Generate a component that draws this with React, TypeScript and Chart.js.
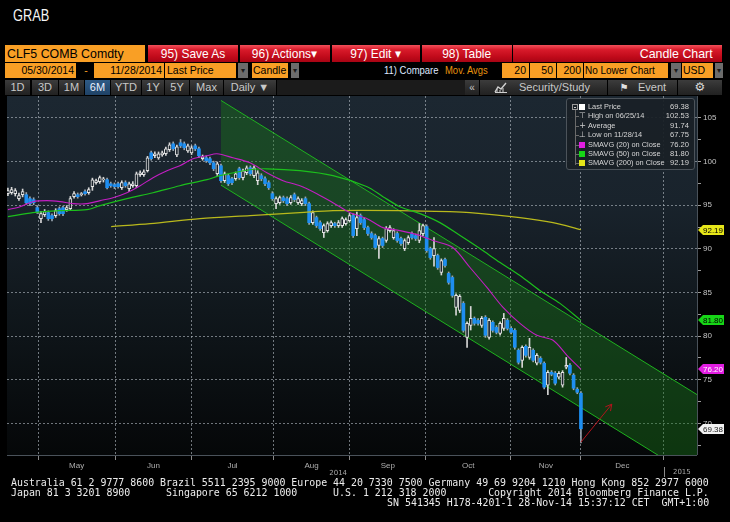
import React, { useEffect, useRef } from "react";
import { Chart, registerables } from "chart.js";

Chart.register(...registerables);

// ---------- DATA (daily candles, index 0 = first visible trading day) ----------
const openPrices = [
  96.32, 96.43, 96.32, 95.75, 96.2, 96.2, 95.75, 95.63, 94.72, 93.46,
  93.92, 94.15, 93.81, 93.81, 94.6, 94.72, 94.49, 94.6, 95.98, 96.2,
  96.2, 96.55, 96.43, 97.12, 97.58, 97.69, 97.9, 97.92, 97.46, 97.35,
  97.46, 97.0, 97.58, 96.89, 97.23, 97.23, 98.49, 98.49, 98.95, 101.0,
  100.66, 100.43, 100.77, 100.89, 101.35, 102.03, 100.77, 102.15, 102.03, 101.23,
  101.0, 101.8, 101.46, 100.32, 100.43, 100.32, 99.86, 98.6, 99.52, 97.81,
  98.38, 98.03, 98.03, 99.17, 98.15, 98.72, 99.29, 98.38, 97.81, 98.38,
  98.03, 97.58, 96.32, 95.18, 95.29, 95.86, 95.75, 95.29, 96.2, 95.29,
  95.18, 95.75, 95.18, 93.0, 93.58, 93.0, 91.86, 92.09, 92.66, 92.89,
  92.66, 92.66, 92.89, 93.23, 93.81, 92.32, 93.81, 93.35, 92.43, 91.75,
  91.52, 90.38, 91.18, 90.95, 92.09, 91.29, 91.75, 91.18, 90.03, 90.72,
  91.75, 91.52, 90.95, 91.75, 92.55, 90.03, 89.23, 89.23, 87.29, 88.77,
  87.18, 86.72, 83.29, 82.95, 83.75, 79.86, 81.23, 82.03, 81.8, 81.23,
  82.15, 79.86, 81.58, 81.0, 80.32, 80.89, 81.8, 80.89, 80.66, 78.38,
  77.23, 78.83, 77.57, 78.38, 76.89, 77.46, 76.89, 74.37, 75.86, 75.75,
  75.29, 74.37, 76.43, 76.66, 75.52, 73.92, 73.46,
];
const highPrices = [
  96.95, 97.05, 96.9, 96.4, 96.85, 96.45, 95.95, 95.85, 94.95, 94.3,
  94.5, 94.35, 94.0, 94.6, 94.8, 94.9, 94.95, 96.0, 96.55, 96.4,
  96.45, 96.75, 97.0, 98.1, 98.0, 98.35, 98.2, 98.1, 97.65, 97.55,
  97.65, 97.8, 97.8, 97.65, 97.7, 98.8, 98.95, 99.05, 100.6, 101.2,
  101.1, 101.1, 101.2, 101.65, 102.15, 102.25, 101.9, 102.53, 102.25, 102.0,
  101.8, 102.0, 101.65, 100.75, 100.65, 100.5, 100.05, 99.95, 99.7, 98.8,
  98.55, 98.2, 98.8, 99.35, 99.15, 99.5, 99.5, 99.5, 98.95, 98.6,
  98.25, 97.8, 96.55, 95.95, 96.05, 96.05, 95.95, 96.1, 96.4, 95.95,
  95.75, 95.95, 95.35, 94.35, 93.75, 93.2, 92.85, 93.1, 93.2, 93.05,
  93.25, 93.65, 93.55, 94.05, 94.0, 94.2, 94.0, 93.55, 92.6, 91.95,
  91.7, 91.4, 91.35, 92.55, 92.65, 92.3, 91.95, 91.35, 91.15, 91.5,
  91.95, 91.7, 92.9, 92.85, 92.75, 90.2, 91.3, 89.4, 88.85, 88.95,
  87.35, 86.9, 84.85, 84.75, 83.95, 81.65, 83.4, 82.2, 82.0, 82.25,
  82.35, 82.0, 81.75, 81.2, 81.65, 82.6, 82.0, 81.1, 80.85, 78.55,
  78.9, 79.0, 79.75, 78.55, 78.0, 77.65, 77.05, 76.05, 76.05, 75.95,
  75.95, 76.05, 77.55, 76.85, 75.7, 74.1, 73.65,
];
const lowPrices = [
  96.1, 96.25, 96.05, 95.55, 95.95, 95.1, 94.95, 95.05, 94.05, 93.0,
  93.7, 93.25, 93.2, 93.6, 93.85, 93.8, 94.3, 94.4, 95.8, 95.8,
  96.05, 96.15, 96.25, 96.7, 97.4, 97.5, 97.65, 96.85, 97.05, 96.9,
  96.95, 96.8, 97.05, 96.55, 97.05, 97.0, 98.3, 98.3, 98.8, 100.15,
  100.45, 100.25, 100.6, 100.7, 101.15, 101.25, 100.55, 101.6, 101.35, 101.05,
  100.8, 101.25, 100.45, 100.15, 99.9, 99.65, 98.95, 98.4, 97.6, 97.6,
  97.25, 97.35, 97.85, 97.95, 97.9, 98.5, 98.4, 98.15, 97.35, 97.8,
  97.25, 96.8, 95.55, 94.6, 95.1, 95.3, 94.95, 95.1, 95.4, 95.1,
  94.95, 94.95, 92.8, 92.8, 92.45, 92.1, 91.3, 91.9, 92.45, 92.45,
  92.45, 92.45, 92.7, 93.05, 91.3, 91.5, 92.8, 92.2, 91.55, 91.1,
  89.95, 88.9, 90.15, 90.75, 91.9, 91.1, 90.75, 90.4, 89.8, 90.5,
  91.1, 90.95, 90.7, 91.5, 89.6, 88.8, 88.0, 87.65, 87.0, 87.9,
  85.95, 84.45, 82.4, 82.7, 80.45, 78.7, 80.7, 81.25, 81.25, 81.0,
  79.85, 79.65, 80.45, 80.25, 80.1, 80.65, 80.7, 80.25, 78.5, 76.8,
  76.4, 77.6, 77.35, 77.05, 76.7, 76.8, 73.95, 73.3, 75.45, 74.4,
  75.1, 74.15, 76.25, 75.55, 73.85, 73.4, 67.75,
];
const closePrices = [
  96.66, 96.78, 96.66, 96.09, 96.55, 95.29, 95.18, 95.29, 94.26, 94.03,
  94.26, 93.46, 93.46, 94.38, 94.03, 94.03, 94.72, 95.75, 96.32, 95.98,
  96.32, 96.32, 96.78, 97.92, 97.81, 98.15, 97.95, 97.0, 97.23, 97.12,
  97.12, 97.58, 97.23, 97.46, 97.46, 98.6, 98.72, 98.83, 100.43, 100.32,
  100.89, 100.89, 101.0, 101.46, 101.92, 101.46, 101.69, 101.8, 101.58, 101.8,
  101.58, 101.46, 100.66, 100.55, 100.09, 99.86, 99.17, 99.75, 97.81, 98.6,
  97.46, 97.58, 98.6, 98.15, 98.95, 99.29, 98.6, 99.29, 98.72, 98.03,
  97.46, 97.0, 95.75, 95.75, 95.86, 95.52, 95.18, 95.86, 95.63, 95.75,
  95.52, 95.18, 93.0, 94.15, 92.66, 92.32, 92.66, 92.89, 93.0, 92.66,
  93.0, 93.46, 93.35, 93.81, 91.52, 93.58, 93.0, 92.43, 91.75, 91.29,
  90.15, 91.18, 90.38, 92.32, 92.43, 92.09, 90.95, 90.6, 90.95, 91.29,
  91.29, 91.18, 92.09, 92.66, 89.8, 89.0, 90.03, 87.86, 88.66, 88.09,
  86.15, 84.66, 84.66, 84.55, 80.66, 81.46, 82.03, 81.46, 81.46, 82.03,
  80.09, 81.8, 80.66, 80.43, 81.46, 82.03, 80.89, 80.43, 78.72, 77.0,
  78.72, 77.8, 78.72, 77.23, 77.8, 77.0, 74.15, 75.86, 75.63, 74.6,
  75.75, 75.86, 76.66, 75.75, 74.03, 73.57, 69.38,
];

const sma20X = [0, 3.3, 6.8, 10.6, 14.2, 17.7, 21.5, 25.1, 28.6, 32.4, 36, 39.5, 43.3, 46.8, 50.4, 54.2, 56.9, 61.3, 65.9, 70.5, 74.9, 79.5, 84.1, 88.5, 93.1, 97.8, 102.1, 106.7, 111.4, 115.7, 121.1, 125.8, 130.4, 134.8, 139.4, 144, 148.4, 152.2, 156];
const sma20Y = [94.49, 94.83, 95.4, 95.52, 95.41, 95.18, 95.18, 95.52, 95.86, 96.43, 97.23, 98.15, 98.95, 99.52, 100.32, 100.66, 100.89, 100.43, 99.86, 98.72, 97.81, 97.23, 96.32, 95.29, 94.15, 93.46, 92.43, 92.09, 91.63, 90.95, 90.15, 87.86, 85.58, 83.29, 81.46, 80.09, 79.52, 77.8, 76.2];
const sma50X = [0, 6.8, 14.2, 21.5, 25.1, 32.4, 39.5, 46.8, 54.2, 57.7, 65.9, 70.5, 79.5, 88.5, 97.8, 102.1, 106.7, 112.2, 117.6, 123.1, 128.5, 134, 139.4, 144.8, 150.3, 156];
const sma50Y = [93.69, 94.15, 94.38, 94.49, 94.95, 95.75, 96.43, 97.23, 97.92, 98.38, 99.06, 99.17, 98.95, 98.38, 97.12, 95.98, 94.83, 94.03, 93.0, 91.52, 90.03, 88.43, 86.95, 85.23, 83.75, 81.8];
const sma200X = [28.1, 38.7, 52.3, 65.9, 79.5, 88.5, 106.7, 120.3, 125.8, 139.4, 148.4, 156];
const sma200Y = [92.55, 92.89, 93.46, 93.81, 94.15, 94.38, 94.38, 94.26, 94.15, 93.58, 93.0, 92.19];

const channelX = [58, 187.6];
const channelTop = [107.0, 73.3];
const channelBottom = [97.3, 63.6];
const arrowX = [156, 164.4];
const arrowY = [67.85, 72.2];

const monthBounds = [8.2, 29.2, 50.1, 72.2, 93.1, 113.8, 136.9, 156.0, 178.6];
const monthLabels = ["May", "Jun", "Jul", "Aug", "Sep", "Oct", "Nov", "Dec"];
const yearLabels = ["2014", "2015"];
const yearPos = [89.9, 178.6];
const yTicks = [67.5, 70, 72.5, 75, 77.5, 80, 82.5, 85, 87.5, 90, 92.5, 95, 97.5, 100, 102.5, 105];

const tagValues = [92.19, 81.8, 76.2, 69.38];
const tagColors = ["#e6e619", "#17d617", "#e21ee2", "#f2f2f2"];
const tagText = ["#000", "#000", "#fff", "#222"];

const legendNames = ["Last Price", "High on 06/25/14", "Average", "Low on 11/28/14", "SMAVG (20) on Close", "SMAVG (50) on Close", "SMAVG (200) on Close"];
const legendValues = ["69.38", "102.53", "91.74", "67.75", "76.20", "81.80", "92.19"];
const legendSwatch = ["#ffffff", "", "", "", "#e21ee2", "#17d617", "#e6e619"];

const footer1 = "Australia 61 2 9777 8600 Brazil 5511 2395 9000 Europe 44 20 7330 7500 Germany 49 69 9204 1210 Hong Kong 852 2977 6000";
const footer2 = "Japan 81 3 3201 8900      Singapore 65 6212 1000      U.S. 1 212 318 2000       Copyright 2014 Bloomberg Finance L.P.";
const footer3 = "SN 541345 H178-4201-1 28-Nov-14 15:37:12 CET  GMT+1:00";

// ---------- HELPERS ----------
const ORANGE = "#f99f25";
const RED = "linear-gradient(to bottom, #f2505a 0%, #d81a2a 28%, #c00a1a 70%, #a80414 100%)";
const BTN = "linear-gradient(to bottom, #3c3c3c 0%, #2c2c2c 55%, #222 100%)";

type BP = {
  l: number; t: number; w: number; h: number; bg?: string; c?: string; fs?: number;
  a?: "left" | "center" | "right"; p?: number; sx?: number; ff?: string; children?: React.ReactNode; st?: React.CSSProperties;
};
function B({ l, t, w, h, bg, c = "#000", fs = 11, a = "left", p = 2, sx = 1, ff = "Liberation Sans", children, st }: BP) {
  return (
    <div
      style={{
        position: "absolute", left: l, top: t, width: w, height: h, background: bg, color: c, fontSize: fs,
        fontFamily: ff, lineHeight: h + "px", textAlign: a, padding: `0 ${p}px`, boxSizing: "border-box",
        whiteSpace: "pre", overflow: "hidden", ...st,
      }}
    >
      <span style={{ display: "inline-block", transform: `scaleX(${sx})`, transformOrigin: a === "left" ? "left center" : a === "right" ? "right center" : "center center" }}>
        {children}
      </span>
    </div>
  );
}

function Candles() {
  const ref = useRef<HTMLCanvasElement | null>(null);
  useEffect(() => {
    const canvas = ref.current;
    if (!canvas) return;
    const up = closePrices.map((c, i) => c >= openPrices[i]);
    const monthMids = monthBounds.slice(0, -1).map((b, i) => (b + monthBounds[i + 1]) / 2);
    const isBound = (v: number) => monthBounds.some((b) => Math.abs(b - v) < 1e-6);
    const gridCol = "rgba(178,186,194,0.62)";

    const bgPlugin = {
      id: "bgfill",
      beforeDraw(chart: any) {
        const { ctx, chartArea: a } = chart;
        const g = ctx.createLinearGradient(0, a.top, 0, a.bottom);
        g.addColorStop(0, "#1c2731");
        g.addColorStop(0.3, "#19232c");
        g.addColorStop(0.6, "#10171c");
        g.addColorStop(1, "#050708");
        ctx.save();
        ctx.fillStyle = g;
        ctx.fillRect(a.left, a.top, a.right - a.left, a.bottom - a.top);
        ctx.restore();
      },
    };

    const overlay = {
      id: "overlay",
      afterDatasetsDraw(chart: any) {
        const { ctx, scales, chartArea: a } = chart;
        const x = scales.x, y = scales.y;
        // arrow
        const x0 = x.getPixelForValue(arrowX[0]), y0 = y.getPixelForValue(arrowY[0]);
        const x1 = x.getPixelForValue(arrowX[1]), y1 = y.getPixelForValue(arrowY[1]);
        ctx.save();
        ctx.strokeStyle = "#b3141c";
        ctx.lineWidth = 1;
        ctx.beginPath();
        ctx.moveTo(x0, y0);
        ctx.lineTo(x1, y1);
        const ang = Math.atan2(y1 - y0, x1 - x0);
        for (const s of [-1, 1]) {
          ctx.moveTo(x1, y1);
          ctx.lineTo(x1 - 7 * Math.cos(ang + s * 0.5), y1 - 7 * Math.sin(ang + s * 0.5));
        }
        ctx.stroke();
        // axis lines
        ctx.strokeStyle = "#4a525a";
        ctx.beginPath();
        ctx.moveTo(a.left, Math.round(a.bottom) + 0.5);
        ctx.lineTo(a.right, Math.round(a.bottom) + 0.5);
        ctx.moveTo(Math.round(a.right) + 0.5, a.top);
        ctx.lineTo(Math.round(a.right) + 0.5, a.bottom);
        ctx.stroke();
        ctx.restore();
      },
      afterDraw(chart: any) {
        const { ctx, scales, chartArea: a } = chart;
        const x = scales.x, y = scales.y;
        ctx.save();
        // value tags on right axis
        tagValues.forEach((v, i) => {
          const py = Math.round(y.getPixelForValue(v));
          const r = a.right + 1;
          ctx.fillStyle = tagColors[i];
          ctx.beginPath();
          ctx.moveTo(r, py);
          ctx.lineTo(r + 5, py - 5);
          ctx.lineTo(r + 26, py - 5);
          ctx.lineTo(r + 26, py + 5);
          ctx.lineTo(r + 5, py + 5);
          ctx.closePath();
          ctx.fill();
          ctx.fillStyle = tagText[i];
          ctx.font = "8px 'Liberation Sans'";
          ctx.textBaseline = "middle";
          ctx.textAlign = "left";
          ctx.fillText(v.toFixed(2), r + 5, py + 0.5);
        });
        // year labels
        ctx.fillStyle = "#a8a8a8";
        ctx.font = "7px 'DejaVu Sans'";
        ctx.textBaseline = "middle";
        yearLabels.forEach((lab, i) => {
          const px = x.getPixelForValue(yearPos[i]);
          if (i === 0) {
            ctx.textAlign = "center";
            ctx.fillText(lab, px, a.bottom + 18);
          } else {
            ctx.strokeStyle = "#8a8a8a";
            ctx.beginPath();
            ctx.moveTo(Math.round(px) + 0.5, a.bottom + 12);
            ctx.lineTo(Math.round(px) + 0.5, a.bottom + 22);
            ctx.stroke();
            ctx.textAlign = "left";
            ctx.fillText(lab, px + 9, a.bottom + 17);
          }
        });
        ctx.restore();
      },
    };

    const chart = new Chart(canvas, {
      type: "bar",
      data: {
        datasets: [
          {
            type: "line",
            data: channelX.map((v, i) => ({ x: v, y: channelTop[i] })),
            borderColor: "#1fb21f",
            borderWidth: 1,
            pointRadius: 0,
            fill: "+1",
            backgroundColor: "rgba(26,118,26,0.42)",
            order: 30,
          } as any,
          {
            type: "line",
            data: channelX.map((v, i) => ({ x: v, y: channelBottom[i] })),
            borderColor: "#1fb21f",
            borderWidth: 1,
            pointRadius: 0,
            fill: false,
            order: 29,
          } as any,
          {
            type: "bar",
            data: lowPrices.map((l, i) => ({ x: i, y: [l, highPrices[i]] })),
            backgroundColor: up.map((u) => (u ? "#d6d6d6" : "#9aa6b0")),
            barThickness: 1,
            grouped: false,
            order: 20,
          } as any,
          {
            type: "bar",
            data: openPrices.map((o, i) => ({ x: i, y: [o, closePrices[i]] })),
            backgroundColor: up.map((u) => (u ? "#1a232b" : "#1e8ef0")),
            borderColor: up.map((u) => (u ? "#e4e4e4" : "#1e8ef0")),
            borderWidth: up.map((u) => (u ? 1 : 0)),
            borderSkipped: false,
            barThickness: 3,
            minBarLength: 1,
            grouped: false,
            order: 19,
          } as any,
          {
            type: "line",
            data: sma200X.map((v, i) => ({ x: v, y: sma200Y[i] })),
            borderColor: "#b9b91c",
            borderWidth: 1.3,
            pointRadius: 0,
            tension: 0.3,
            fill: false,
            order: 3,
          } as any,
          {
            type: "line",
            data: sma50X.map((v, i) => ({ x: v, y: sma50Y[i] })),
            borderColor: "#1cbf1c",
            borderWidth: 1.2,
            pointRadius: 0,
            tension: 0.3,
            fill: false,
            order: 2,
          } as any,
          {
            type: "line",
            data: sma20X.map((v, i) => ({ x: v, y: sma20Y[i] })),
            borderColor: "#c21ec2",
            borderWidth: 1.1,
            pointRadius: 0,
            tension: 0.3,
            fill: false,
            order: 1,
          } as any,
        ],
      },
      options: {
        animation: false,
        responsive: false,
        devicePixelRatio: 1,
        events: [],
        layout: { padding: { left: 7, top: 0, right: 0, bottom: 0 } },
        plugins: { legend: { display: false }, tooltip: { enabled: false }, title: { display: false } },
        scales: {
          x: {
            type: "linear",
            min: -0.25,
            max: 187.6,
            offset: false,
            afterBuildTicks: (s: any) => {
              s.ticks = [...monthBounds, ...monthMids].sort((p, q) => p - q).map((v) => ({ value: v }));
            },
            afterFit: (s: any) => {
              s.height = 25;
              s.paddingLeft = 0;
              s.paddingRight = 0;
            },
            ticks: {
              autoSkip: false,
              maxRotation: 0,
              minRotation: 0,
              padding: 1,
              color: "#aeaeae",
              font: { size: 8, family: "'Liberation Sans'" },
              callback: (v: any) => {
                const k = monthMids.findIndex((m) => Math.abs(m - Number(v)) < 1e-6);
                return k >= 0 ? monthLabels[k] : "";
              },
            },
            grid: {
              offset: false,
              color: (ctx: any) => (ctx.tick && isBound(ctx.tick.value) ? gridCol : "rgba(0,0,0,0)"),
              tickColor: (ctx: any) => (ctx.tick && isBound(ctx.tick.value) ? "#8a8a8a" : "rgba(0,0,0,0)"),
              tickLength: 5,
              lineWidth: 1,
            },
            border: { display: false, dash: [2, 2] },
          } as any,
          y: {
            type: "linear",
            position: "right",
            min: 66.38,
            max: 107.51,
            afterBuildTicks: (s: any) => {
              s.ticks = yTicks.map((v) => ({ value: v }));
            },
            afterFit: (s: any) => {
              s.width = 33;
              s.paddingTop = 0;
              s.paddingBottom = 0;
            },
            ticks: {
              padding: 2,
              color: "#c4c4c4",
              font: { size: 8, family: "'Liberation Sans'" },
              callback: (v: any) => (Number(v) % 5 === 0 ? String(v) : ""),
            },
            grid: {
              color: (ctx: any) => (ctx.tick && ctx.tick.value % 5 === 0 ? gridCol : "rgba(0,0,0,0)"),
              tickColor: "#9a9a9a",
              tickLength: 4,
              lineWidth: 1,
            },
            border: { display: false, dash: [2, 2] },
          } as any,
        },
      } as any,
      plugins: [bgPlugin, overlay],
    });
    return () => chart.destroy();
  }, []);
  return <canvas ref={ref} width={730} height={384} style={{ position: "absolute", left: 0, top: 96, display: "block" }} />;
}

function Legend() {
  return (
    <div
      style={{
        position: "absolute", left: 566, top: 98, width: 129, height: 72, background: "rgba(26,32,38,0.94)",
        border: "1px solid #4c535a", borderRadius: 3, boxSizing: "border-box", fontFamily: "'Liberation Sans'",
      }}
    >
      <div style={{ position: "absolute", left: 8, top: 10, width: 1, height: 56, background: "#6a6a6a" }} />
      <div style={{ position: "absolute", left: 5, top: 5, width: 6, height: 6, border: "1px solid #9a9a9a", boxSizing: "border-box", background: "#1a2026" }}>
        <div style={{ position: "absolute", left: 1, top: 2, width: 2, height: 1, background: "#ccc" }} />
      </div>
      {legendNames.map((n, i) => {
        const cy = 8 + i * 9.4;
        return (
          <React.Fragment key={n}>
            {i > 0 && <div style={{ position: "absolute", left: 8, top: cy, width: 4, height: 1, background: "#6a6a6a" }} />}
            {legendSwatch[i] ? (
              <div style={{ position: "absolute", left: 12, top: cy - 3, width: 6, height: 6, background: legendSwatch[i] }} />
            ) : (
              <div style={{ position: "absolute", left: 11, top: cy - 5, width: 9, height: 10, color: "#cfcfcf", fontSize: 8, lineHeight: "10px", textAlign: "center", fontFamily: "'DejaVu Sans'" }}>
                {i === 1 ? "\u22A4" : i === 2 ? "+" : "\u22A5"}
              </div>
            )}
            <div style={{ position: "absolute", left: 21, top: cy - 5, height: 10, lineHeight: "10px", fontSize: 7.4, color: "#d6d6d6", whiteSpace: "nowrap" }}>{n}</div>
            <div style={{ position: "absolute", right: 5, top: cy - 5, height: 10, lineHeight: "10px", fontSize: 7.6, color: "#d6d6d6", whiteSpace: "nowrap" }}>{legendValues[i]}</div>
          </React.Fragment>
        );
      })}
    </div>
  );
}

function ChartIcon() {
  return (
    <svg width="14" height="11" style={{ position: "absolute", left: 494, top: 82 }}>
      <polyline points="1,10 4,5 7,7 12,1" fill="none" stroke="#d0d0d0" strokeWidth="1.4" />
      <line x1="1" y1="10.5" x2="13" y2="10.5" stroke="#d0d0d0" strokeWidth="1" />
      <line x1="3" y1="10" x2="3" y2="7" stroke="#d0d0d0" />
      <line x1="6" y1="10" x2="6" y2="8" stroke="#d0d0d0" />
      <line x1="9" y1="10" x2="9" y2="6" stroke="#d0d0d0" />
    </svg>
  );
}

export default function App() {
  useEffect(() => {
    document.body.style.margin = "0";
    document.body.style.background = "#000";
  }, []);
  const txt = "#c8c8c8";
  return (
    <div style={{ position: "fixed", left: 0, top: 0, width: 730, height: 522, background: "#000", overflow: "hidden", fontFamily: "'Liberation Sans'" }}>
      <B l={13} t={6} w={60} h={20} c="#f4f4f4" fs={16} p={0} sx={0.8}>GRAB</B>

      {/* row 1 */}
      <B l={5} t={45} w={140} h={17} bg={ORANGE} fs={13} p={2} sx={0.95}>CLF5 COMB Comdty</B>
      <B l={148} t={45} w={90} h={17} bg={RED} c="#fff" fs={13} a="center" sx={0.92}>95) Save As</B>
      <B l={240} t={45} w={90} h={17} bg={RED} c="#fff" fs={13} a="center" sx={0.92}>{"96) Actions\u25BE"}</B>
      <B l={332} t={45} w={88} h={17} bg={RED} c="#fff" fs={13} a="center" sx={0.92}>{"97) Edit \u25BE"}</B>
      <B l={422} t={45} w={90} h={17} bg={RED} c="#fff" fs={13} a="center" sx={0.92}>98) Table</B>
      <B l={513} t={45} w={209} h={17} bg={RED} c="#fff" fs={13} a="right" p={9} sx={0.95}>Candle Chart</B>

      {/* row 2 */}
      <B l={5} t={63} w={71} h={15} bg={ORANGE} fs={10.5} a="right" p={2}>05/30/2014</B>
      <B l={80} t={63} w={12} h={15} c={ORANGE} fs={10.5} a="center" p={0}>-</B>
      <B l={94} t={63} w={70} h={15} bg={ORANGE} fs={10.5} a="right" p={2}>11/28/2014</B>
      <B l={165} t={63} w={71} h={15} bg={ORANGE} fs={10.5} p={2}>Last Price</B>
      <B l={238} t={63} w={10} h={15} bg="#6c6c6c" c="#1c1c1c" fs={8} a="center" p={0}>{"\u25BE"}</B>
      <B l={252} t={63} w={36} h={15} bg={ORANGE} fs={10.5} p={1}>Candle</B>
      <B l={291} t={63} w={8} h={15} bg="#6c6c6c" c="#1c1c1c" fs={8} a="center" p={0}>{"\u25BE"}</B>
      <B l={384} t={63} w={58} h={15} c="#dfe8ff" fs={10.5} p={0} sx={0.9}>11) Compare</B>
      <B l={445} t={63} w={56} h={15} c="#e8940e" fs={10.5} p={0} sx={0.9}>Mov. Avgs</B>
      <B l={502} t={63} w={27} h={15} bg={ORANGE} fs={10.5} a="right" p={3}>20</B>
      <B l={530} t={63} w={26} h={15} bg={ORANGE} fs={10.5} a="right" p={3}>50</B>
      <B l={557} t={63} w={26} h={15} bg={ORANGE} fs={10.5} a="right" p={2}>200</B>
      <B l={584} t={63} w={84} h={15} bg={ORANGE} fs={10.5} p={1} sx={0.95}>No Lower Chart</B>
      <B l={671} t={63} w={10} h={15} bg="#6c6c6c" c="#1c1c1c" fs={8} a="center" p={0}>{"\u25BE"}</B>
      <B l={682} t={63} w={31} h={15} bg={ORANGE} fs={10.5} p={1}>USD</B>
      <B l={715} t={63} w={8} h={15} bg="#6c6c6c" c="#1c1c1c" fs={8} a="center" p={0}>{"\u25BE"}</B>

      {/* row 3 */}
      <div style={{ position: "absolute", left: 277, top: 80, width: 188, height: 15, background: "#1b1b1b" }} />
      <B l={5} t={80} w={25} h={15} bg={BTN} c={txt} fs={11} a="center" p={0}>1D</B>
      <B l={32} t={80} w={26} h={15} bg={BTN} c={txt} fs={11} a="center" p={0}>3D</B>
      <B l={59} t={80} w={25} h={15} bg={BTN} c={txt} fs={11} a="center" p={0}>1M</B>
      <B l={85} t={80} w={25} h={15} bg="linear-gradient(to bottom,#2f5b86,#1f4266)" c="#e8f0ff" fs={11} a="center" p={0}>6M</B>
      <B l={111} t={80} w={30} h={15} bg={BTN} c={txt} fs={11} a="center" p={0}>YTD</B>
      <B l={142} t={80} w={22} h={15} bg={BTN} c={txt} fs={11} a="center" p={0}>1Y</B>
      <B l={165} t={80} w={24} h={15} bg={BTN} c={txt} fs={11} a="center" p={0}>5Y</B>
      <B l={190} t={80} w={33} h={15} bg={BTN} c={txt} fs={11} a="center" p={0}>Max</B>
      <B l={224} t={80} w={52} h={15} bg={BTN} c={txt} fs={11} a="center" p={0}>{"Daily \u25BC"}</B>
      <B l={465} t={80} w={14} h={15} bg={BTN} c={txt} fs={10} a="center" p={0}>{"\u00AB"}</B>
      <B l={480} t={80} w={127} h={15} bg={BTN} c={txt} fs={11} p={39}>Security/Study</B>
      <ChartIcon />
      <B l={608} t={80} w={69} h={15} bg={BTN} c={txt} fs={11} p={30}>Event</B>
      <B l={617} t={80} w={14} h={15} c="#e0e0e0" fs={10} ff="'DejaVu Sans'" a="center" p={0}>{"\u2691"}</B>
      <B l={678} t={80} w={44} h={15} bg={BTN} c="#d8d8d8" fs={12} ff="'DejaVu Sans'" a="center" p={0}>{"\u2699"}</B>

      <Candles />
      <Legend />

      {/* footer */}
      <div
        style={{
          position: "absolute", left: 11, top: 477.5, width: 712, fontFamily: "'DejaVu Sans Mono'", fontSize: 9.92,
          lineHeight: "10.3px", color: "#ececec", whiteSpace: "pre",
        }}
      >
        <div>{footer1}</div>
        <div>{footer2}</div>
        <div style={{ textAlign: "left", paddingLeft: 63 * 5.97 }}>{footer3}</div>
      </div>
    </div>
  );
}
